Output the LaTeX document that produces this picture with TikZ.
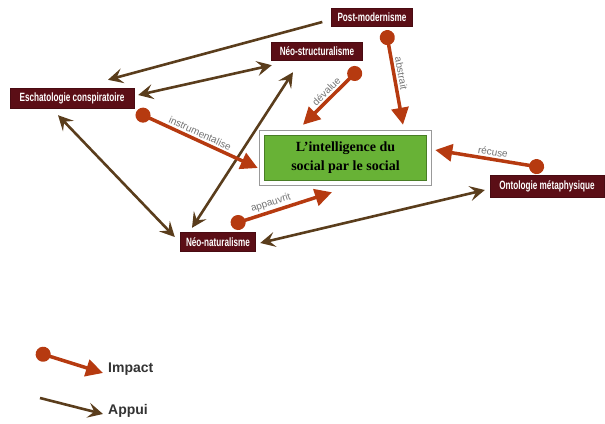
\documentclass[tikz,border=0pt]{standalone}
\usepackage{fontspec}
\setmainfont{Liberation Serif}
\setsansfont{Liberation Sans}
\newfontfamily\condfont[FakeStretch=0.68]{Liberation Sans}
\usetikzlibrary{arrows.meta}
\definecolor{maroon}{HTML}{5B0E16}
\definecolor{impactred}{HTML}{B63A10}
\definecolor{appuibrown}{HTML}{5A3D1C}
\definecolor{boxgreen}{HTML}{68B236}
\tikzset{
  school/.style={fill=maroon, draw=maroon!80!black, text=white, inner sep=0pt,
    font=\condfont\bfseries\fontsize{12}{14}\selectfont},
  impact/.style={draw=impactred, line width=3.5pt,
    {Circle[length=15pt]}-{Triangle[length=17pt,width=17pt]}},
  appui/.style={draw=appuibrown, line width=2.6pt,
    -{Stealth[length=15pt,width=15pt,inset=6pt]}},
  appuib/.style={draw=appuibrown, line width=2.6pt,
    {Stealth[length=15pt,width=15pt,inset=6pt]}-{Stealth[length=15pt,width=15pt,inset=6pt]}},
  verb/.style={font=\sffamily\fontsize{10}{12}\selectfont, text=black!55, sloped, above, inner sep=2pt},
  legend/.style={font=\sffamily\bfseries\fontsize{14}{16}\selectfont, text=black!80, anchor=west, inner sep=0pt}
}
\begin{document}
\begin{tikzpicture}[x=1pt,y=-1pt]
\useasboundingbox (0,0) rectangle (605,423);

% nodes
\node[school, minimum width=81pt, minimum height=18pt] (post) at (372,17) {Post-modernisme};
\node[school, minimum width=91pt, minimum height=18pt] (nstruct) at (317,51) {Néo-structuralisme};
\node[school, minimum width=124pt, minimum height=20pt] (esch) at (72,98) {Eschatologie conspiratoire};
\node[school, minimum width=114pt, minimum height=22pt] (onto) at (547,186) {Ontologie métaphysique};
\node[school, minimum width=75pt, minimum height=19pt] (nnat) at (218,242) {Néo-naturalisme};
\node[draw=black!40, line width=1.5pt, fill=white, minimum width=172pt, minimum height=55pt, inner sep=0pt] (intel) at (345.5,158) {};
\node[fill=boxgreen, draw=boxgreen!70!black, line width=0.5pt, minimum width=162pt, minimum height=45pt, inner sep=0pt,
  align=center, font=\bfseries\fontsize{14}{19}\selectfont] (intelin) at (intel.center) {L'intelligence du\\social par le social};

% appui connectors
\draw[appui] ([shift={(-9,5)}]post.west) -- ([shift={(36,-8)}]esch.north);
\draw[appuib] ([shift={(4,-3)}]esch.east) -- ([shift={(0.5,5)}]nstruct.south west);
\draw[appuib] ([shift={(-14,7)}]esch.south) -- ([shift={(-5.5,-5)}]nnat.west);
\draw[appuib] ([shift={(-26,-4.5)}]nnat.north) -- ([shift={(-24,12)}]nstruct.south);
\draw[appuib] ([shift={(4.5,1)}]nnat.east) -- ([shift={(-5,4)}]onto.west);

% impact connectors
\draw[impact] ([shift={(14,4)}]post.south) -- node[verb, pos=0.47] {abstrait} ([shift={(57.5,-5)}]intel.north);
\draw[impact] ([shift={(43,8)}]nstruct.south) -- node[verb, pos=0.5] {dévalue} ([shift={(-42.5,-5)}]intel.north);
\draw[impact] ([shift={(2,14)}]esch.east) -- node[verb, pos=0.5] {instrumentalise} ([shift={(-1,10)}]intel.west);
\draw[impact] ([shift={(13,-7.5)}]nnat.north) -- node[verb, pos=0.42] {appauvrit} ([shift={(-13.5,6)}]intel.south);
\draw[impact] ([shift={(-3,-7)}]onto.north) -- node[verb, pos=0.48] {récuse} ([shift={(3,-8)}]intel.east);

% legend
\node[legend] (limpact) at (108,369) {Impact};
\node[legend] (lappui) at (108,411) {Appui};
\coordinate (li0) at (36,352);
\coordinate (la0) at (40,398);
\draw[impact] (li0) -- ([shift={(-5,4)}]limpact.west);
\draw[appui] (la0) -- ([shift={(-5,3)}]lappui.west);
\end{tikzpicture}
\end{document}
